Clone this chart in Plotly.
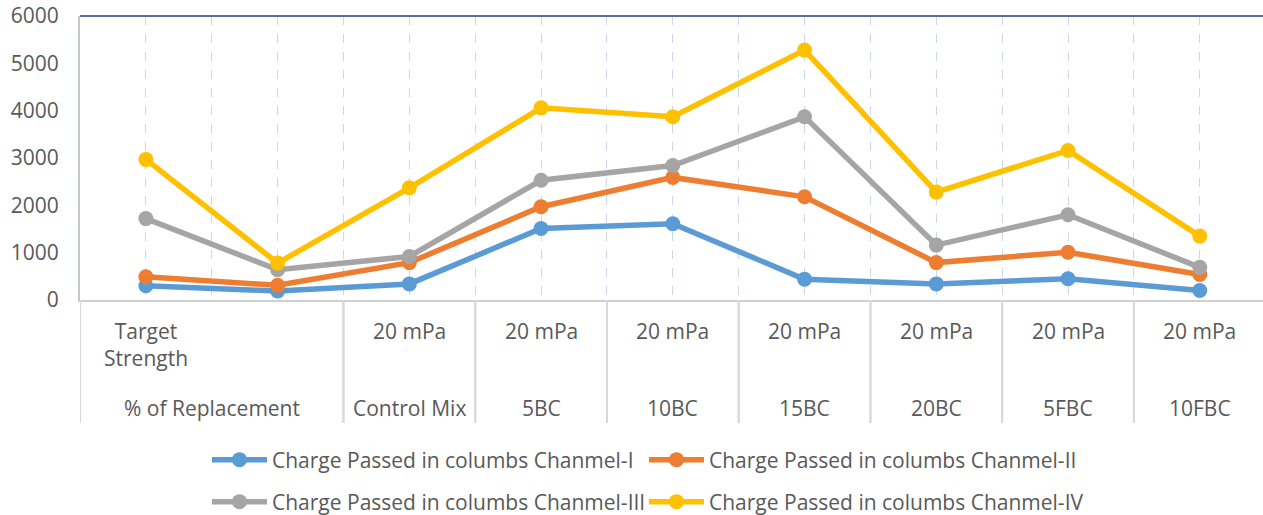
import plotly.graph_objects as go

# ---- data ----
strength = ["Target<br>Strength", "", "20 mPa", "20 mPa", "20 mPa", "20 mPa", "20 mPa", "20 mPa", "20 mPa"]
replacement = ["% of Replacement", "% of Replacement", "Control Mix", "5BC", "10BC", "15BC", "20BC", "5FBC", "10FBC"]
ch1 = [300, 190, 340, 1510, 1610, 440, 340, 450, 200]
ch2 = [490, 310, 790, 1970, 2590, 2180, 790, 1010, 540]
ch3 = [1720, 640, 920, 2530, 2840, 3870, 1160, 1800, 690]
ch4 = [2970, 780, 2370, 4060, 3870, 5280, 2280, 3160, 1350]
names = ["Charge Passed in columbs Chanmel-I", "Charge Passed in columbs Chanmel-II",
         "Charge Passed in columbs Chanmel-III", "Charge Passed in columbs Chanmel-IV"]
colors = ["#5B9BD5", "#ED7D31", "#A5A5A5", "#FFC000"]
yticks = [0, 1000, 2000, 3000, 4000, 5000, 6000]

FONT = "Open Sans"
TXT = "#595959"
W, H = 1263, 515
ML, MT, MB = 80, 16, 215
PH = H - MT - MB  # plot height in px

x = list(range(len(strength)))
fig = go.Figure()
series = [ch1, ch2, ch3, ch4]
legend_ids = ["legend", "legend2", "legend3", "legend4"]
for s, n, c, lg in zip(series, names, colors, legend_ids):
    fig.add_trace(go.Scatter(x=x, y=s, name=n, mode="lines+markers",
                             line=dict(color=c, width=5.5),
                             marker=dict(color=c, size=15),
                             legend=lg))

def py(px_below_axis):
    return -px_below_axis / PH

annotations = []
shapes = []
# row 1 labels
for i, t in enumerate(strength):
    if t:
        annotations.append(dict(x=i, xref="x", y=py(15), yref="paper", text=t, showarrow=False,
                                xanchor="center", yanchor="top", align="center",
                                font=dict(family=FONT, size=21, color=TXT)))
# row 2 groups
groups = []
start = 0
for i in range(1, len(replacement) + 1):
    if i == len(replacement) or replacement[i] != replacement[start]:
        groups.append((replacement[start], start, i - 1))
        start = i
for label, a, b in groups:
    annotations.append(dict(x=(a + b) / 2, xref="x", y=py(108), yref="paper", text=label, showarrow=False,
                            xanchor="center", yanchor="middle",
                            font=dict(family=FONT, size=21, color=TXT)))
    for xb in (a - 0.5, b + 0.5):
        shapes.append(dict(type="line", xref="x", yref="paper", x0=xb, x1=xb, y0=0, y1=py(123),
                           line=dict(color="#D9D9D9", width=2)))
# top border
shapes.append(dict(type="line", xref="paper", yref="paper", x0=0, x1=1, y0=1, y1=1,
                   line=dict(color="#5B6F9E", width=2)))

# legend placement (pixel positions of each entry: left x, row centre below axis)
leg_pos = [(207, 160), (644, 160), (207, 202), (644, 202)]
legend_layout = {}
for lg, (lx, ly) in zip(legend_ids, leg_pos):
    legend_layout[lg] = dict(orientation="h", x=(lx - ML) / (W - ML), xanchor="left",
                             y=py(ly), yanchor="middle", itemwidth=55,
                             font=dict(family=FONT, size=21, color=TXT), bgcolor="rgba(0,0,0,0)")

fig.update_layout(
    width=W, height=H,
    margin=dict(l=ML, r=0, t=MT, b=MB, autoexpand=False),
    paper_bgcolor="white", plot_bgcolor="white",
    font=dict(family=FONT, size=21, color=TXT),
    showlegend=True,
    xaxis=dict(range=[-0.5, 8.48], tickmode="linear", tick0=0, dtick=0.5, showticklabels=False,
               showgrid=True, gridcolor="#C9D8EC", griddash="dash", gridwidth=1, automargin=False,
               showline=True, linecolor="#D0D0D0", linewidth=2, zeroline=False, ticks=""),
    yaxis=dict(range=[0, 6000], tickvals=yticks, showgrid=False, zeroline=False, automargin=False,
               showline=True, linecolor="#C4C8D0", linewidth=2, ticks="",
               ticklabelstandoff=15, tickfont=dict(family=FONT, size=21, color=TXT)),
    annotations=annotations,
    shapes=shapes,
    **legend_layout,
)

fig.write_html("out.html", config={"displayModeBar": False},
               post_script="document.body.style.margin='0';document.body.style.padding='0';"
                           "document.body.style.overflow='hidden';")
